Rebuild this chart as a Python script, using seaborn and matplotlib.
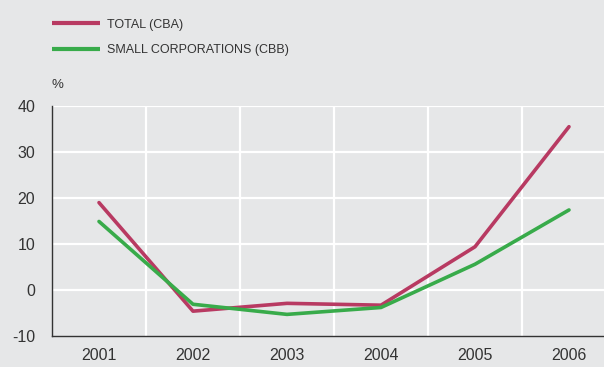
import matplotlib
matplotlib.use("Agg")
import matplotlib.pyplot as plt
import seaborn as sns
import pandas as pd
from matplotlib.lines import Line2D

years = ["2001", "2002", "2003", "2004", "2005", "2006"]
total_cba = [19.0, -4.6, -2.9, -3.3, 9.4, 35.5]
small_cbb = [14.9, -3.1, -5.3, -3.8, 5.6, 17.4]
series_names = ["TOTAL (CBA)", "SMALL CORPORATIONS (CBB)"]
yticks = [-10, 0, 10, 20, 30, 40]

df = pd.DataFrame({
    "year": years * 2,
    "value": total_cba + small_cbb,
    "series": [series_names[0]] * len(years) + [series_names[1]] * len(years),
})
df["x"] = list(range(len(years))) * 2

bg = "#e6e7e8"
colors = {series_names[0]: "#b83a62", series_names[1]: "#38ab4a"}
txt = "#333333"

sns.set_theme(style="white")
plt.rcParams["font.family"] = ["Liberation Sans", "DejaVu Sans"]

fig = plt.figure(figsize=(6.04, 3.67), dpi=100, facecolor=bg)
ax = fig.add_axes([52 / 604, 31 / 367, 552 / 604, 230 / 367])
ax.set_facecolor(bg)

# grid
for v in yticks[1:]:
    ax.axhline(v, color="white", lw=1.6, zorder=0)
for b in range(len(years) - 1):
    ax.axvline(b + 0.5, color="white", lw=1.6, zorder=0)

sns.lineplot(data=df, x="x", y="value", hue="series", palette=colors,
             linewidth=2.6, ax=ax, legend=False, zorder=3)

ax.set_xlim(-0.5, -0.5 + 552 / 94)
ax.set_ylim(-10, 40)
ax.set_xticks(range(len(years)))
ax.set_xticklabels(years)
ax.set_yticks(yticks)
ax.set_yticklabels([str(v) for v in yticks])
ax.tick_params(axis="both", length=0, labelsize=11.5, colors=txt)
ax.tick_params(axis="x", pad=9)
ax.tick_params(axis="y", pad=12)
ax.set_xlabel("")
ax.set_ylabel("")
for s in ["top", "right"]:
    ax.spines[s].set_visible(False)
for s in ["left", "bottom"]:
    ax.spines[s].set_color("#333333")
    ax.spines[s].set_linewidth(1.0)

fig.text(52 / 604, 1 - 85 / 367, "%", fontsize=9.5, color=txt, va="center", ha="left")

handles = [Line2D([], [], color=colors[n], lw=3.0, solid_capstyle="butt") for n in series_names]
fig.legend(handles, series_names, loc="upper left",
           bbox_to_anchor=(41 / 604, 1 - 7.5 / 367), frameon=False,
           fontsize=9, labelcolor=txt, handlelength=3.84, handletextpad=0.56,
           labelspacing=1.05)

fig.savefig("out.png", dpi=100, facecolor=bg)
